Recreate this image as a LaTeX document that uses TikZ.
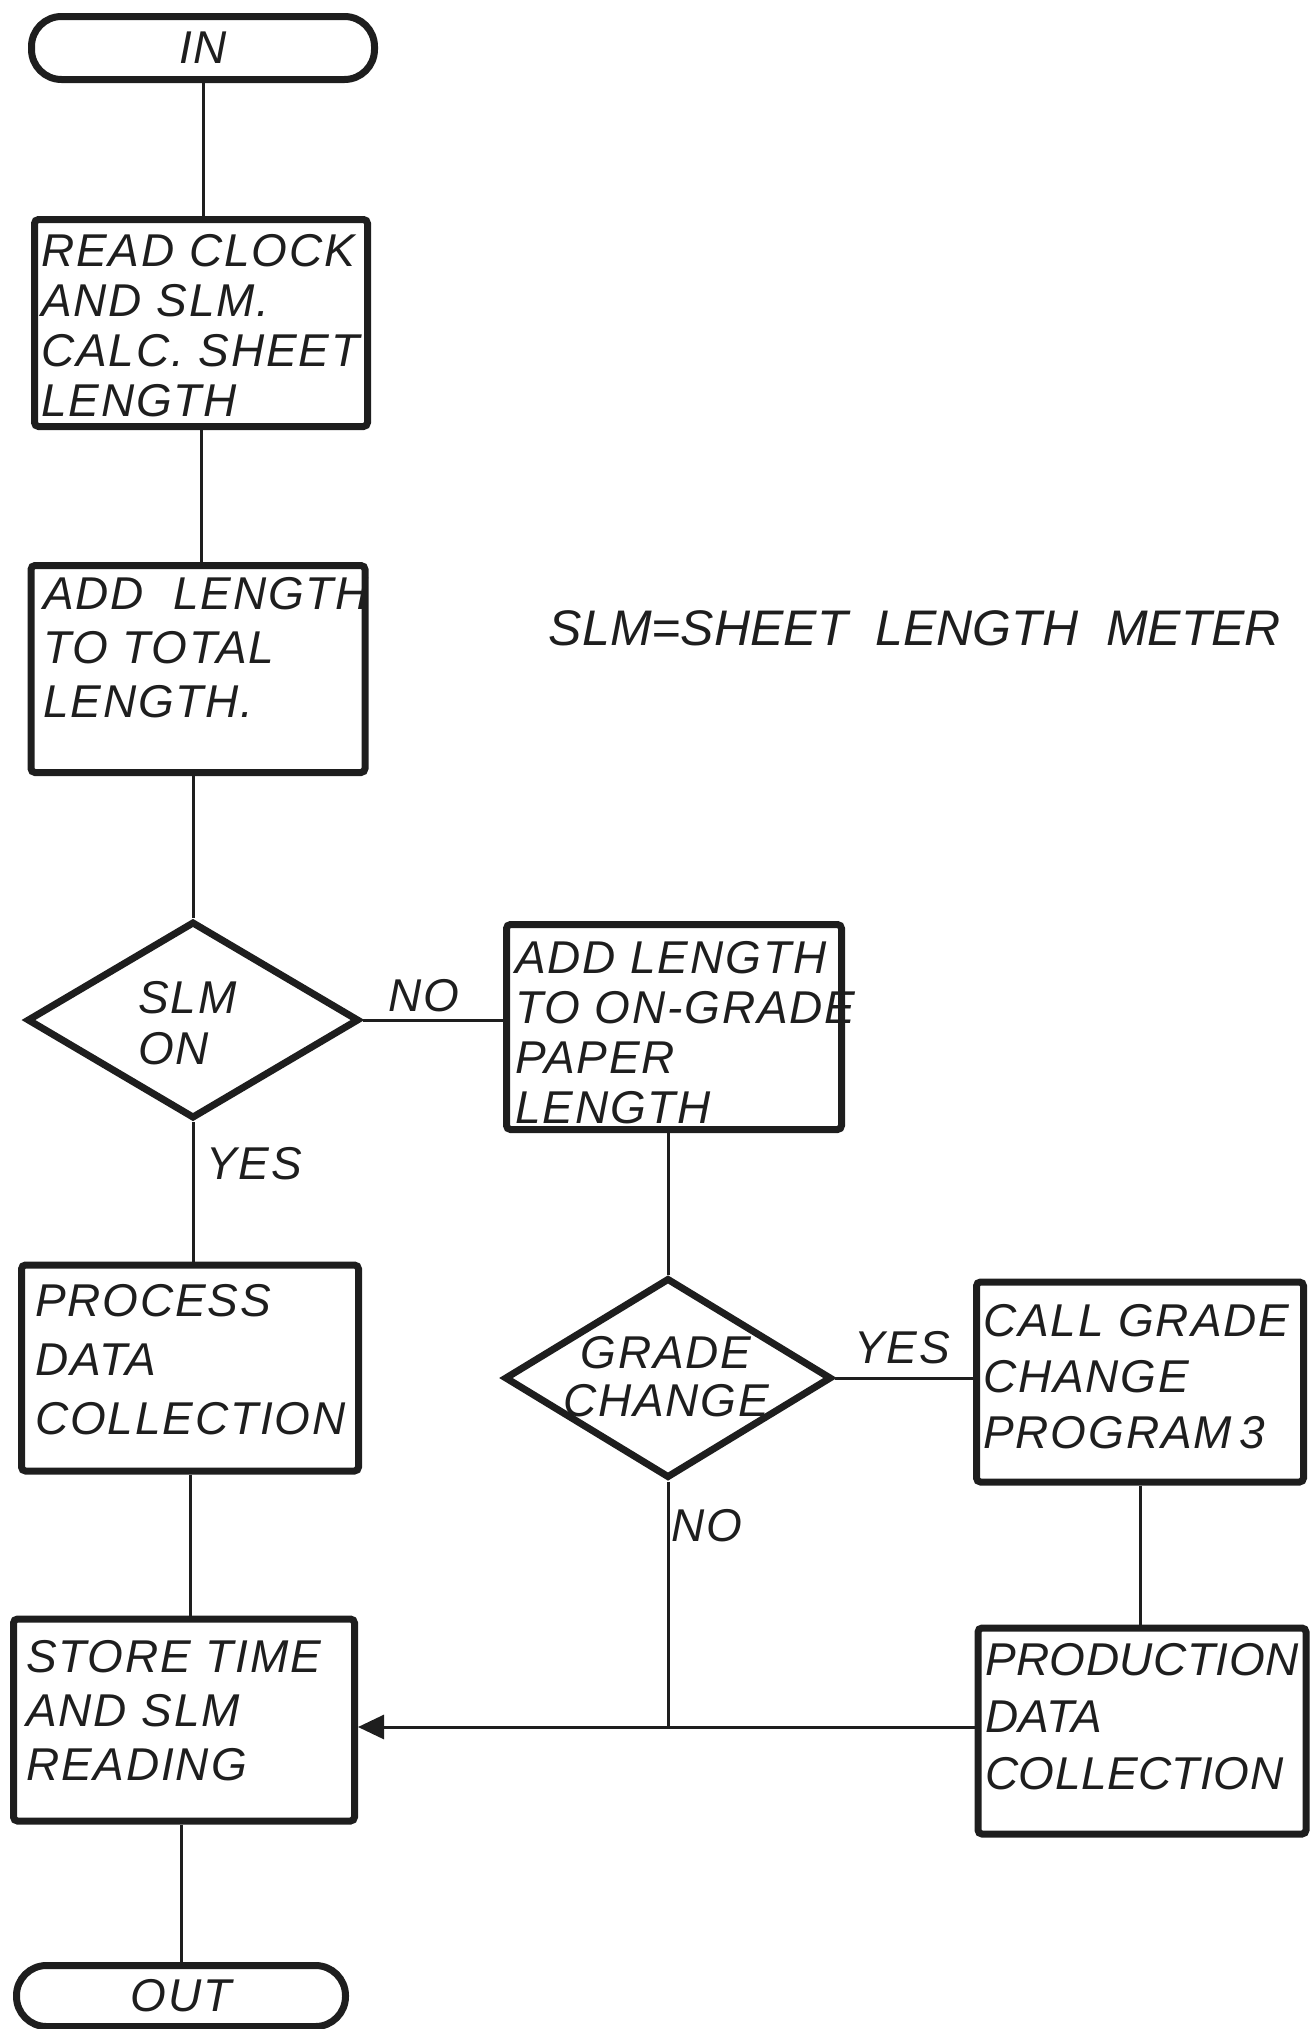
\documentclass[tikz,border=0pt]{standalone}
\usepackage{fontspec}
\setmainfont{Liberation Sans}
\newfontfamily\hand{Liberation Sans}[LetterSpace=4]
\newfontfamily\handn{Liberation Sans}[LetterSpace=1]
\usetikzlibrary{shapes.geometric,arrows.meta}
\definecolor{ink}{HTML}{1E1E1E}
\tikzset{
  box/.style={draw=ink, line width=7pt, rounded corners=4pt, inner sep=0pt},
  term/.style={draw=ink, line width=7pt, rounded corners=30pt, inner sep=0pt, text=ink,
    font=\hand\itshape\fontsize{46}{50}\selectfont},
  dec/.style={draw=ink, line width=7pt, shape=diamond, inner sep=0pt},
  txt/.style={font=\hand\itshape\fontsize{46}{#1}\selectfont, align=left, inner sep=0pt, text=ink},
  txt/.default=50,
  lbl/.style={font=\hand\itshape\fontsize{46}{50}\selectfont, inner sep=0pt, text=ink},
  conn/.style={draw=ink, line width=3pt},
}
\begin{document}
\begin{tikzpicture}[x=1pt,y=-1pt]
\useasboundingbox (0,0) rectangle (1312,2029);
% shapes
\node[term, minimum width=343pt, minimum height=63pt] (in) at (203,48) {IN};
\node[box, minimum width=333pt, minimum height=207pt] (read) at (201,323) {};
\node[box, minimum width=334pt, minimum height=207pt] (add) at (198,669) {};
\node[dec, minimum width=332pt, minimum height=197pt] (slm) at (193,1020) {};
\node[box, minimum width=335pt, minimum height=205pt] (ongrade) at (674,1027) {};
\node[box, minimum width=337pt, minimum height=206pt] (process) at (190,1368) {};
\node[dec, minimum width=327pt, minimum height=200pt] (grade) at (668,1378) {};
\node[box, minimum width=327pt, minimum height=200pt] (call) at (1140,1382) {};
\node[box, minimum width=328pt, minimum height=206pt] (prod) at (1142,1731) {};
\node[box, minimum width=341pt, minimum height=202pt] (store) at (184,1720) {};
\node[term, minimum width=329pt, minimum height=61pt] (out) at (181,1996) {OUT};
% texts
\node[txt=50, anchor=north west] (readt) at (41,234) {READ CLOCK\\AND SLM.\\CALC. SHEET\\LENGTH};
\node[txt=54, anchor=north west] (addt) at (43,577) {ADD\ \ LENGTH\\TO TOTAL\\LENGTH.};
\node[txt=51, anchor=north west] (slmt) at (138,981) {SLM\\ON};
\node[txt=50, anchor=north west] (ongradet) at (515,941) {ADD LENGTH\\TO ON-GRADE\\PAPER\\LENGTH};
\node[txt=59, anchor=north west] (processt) at (35,1284) {PROCESS\\DATA\\COLLECTION};
\node[txt=48, align=center, anchor=north] (gradet) at (666,1336) {GRADE\\CHANGE};
\node[txt=56, anchor=north west] (callt) at (983,1304) {CALL GRADE\\CHANGE\\PROGRAM\,3};
\node[txt=57, font=\handn\itshape\fontsize{46}{57}\selectfont, anchor=north west] (prodt) at (985,1643) {PRODUCTION\\DATA\\COLLECTION};
\node[txt=54, anchor=north west] (storet) at (26,1640) {STORE TIME\\AND SLM\\READING};
\node[font=\itshape\fontsize{50}{50}\selectfont, text=ink, inner sep=0pt] (note) at (915,628) {SLM=SHEET\ \ LENGTH\ \ METER};
% labels
\node[lbl] (no1) at (424,996) {NO};
\node[lbl] (yes1) at (254,1164) {YES};
\node[lbl] (yes2) at (902,1348) {YES};
\node[lbl] (no2) at (707,1526) {NO};
% connectors
\coordinate (j) at (668,1727);
\draw[conn] (in.south) -- (in.south |- read.north);
\draw[conn] (read.south) -- (read.south |- add.north);
\draw[conn] (slm.north |- add.south) -- (slm.north);
\draw[conn] (slm.east) -- (slm.east -| ongrade.west);
\draw[conn] (slm.south) -- (slm.south |- process.north);
\draw[conn] (grade.north |- ongrade.south) -- (grade.north);
\draw[conn] (grade.east) -- (grade.east -| call.west);
\draw[conn] (call.south) -- (call.south |- prod.north);
\draw[conn] (process.south) -- (process.south |- store.north);
\draw[conn] (grade.south) -- (j);
\draw[conn, -{Triangle[length=26pt,width=24pt]}] (prod.west |- j) -- (j -| store.east);
\draw[conn] (out.north |- store.south) -- (out.north);
\end{tikzpicture}
\end{document}
